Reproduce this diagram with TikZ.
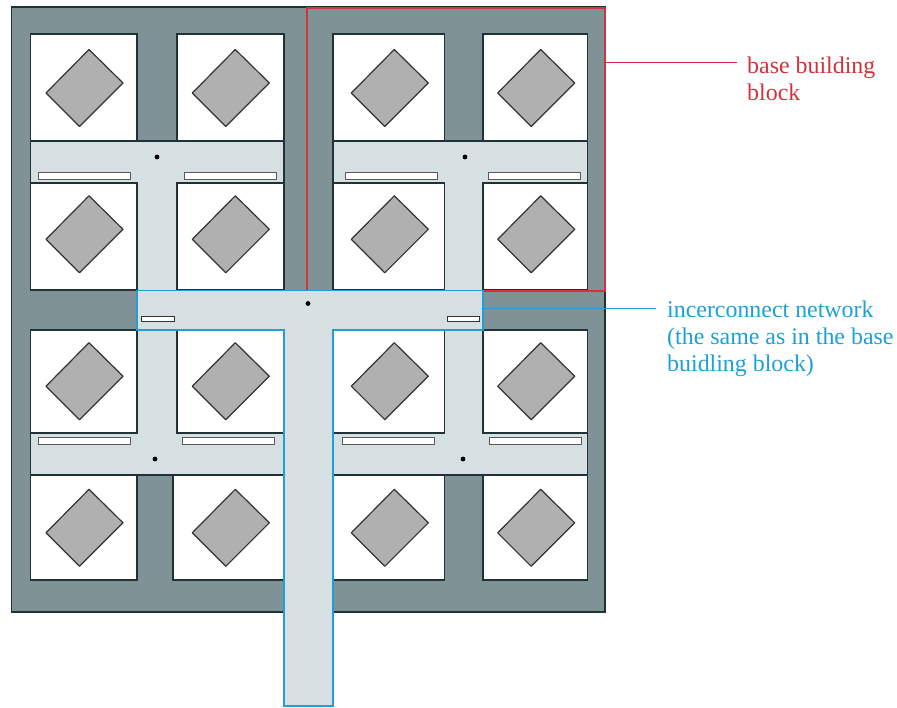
\documentclass[tikz,border=0pt]{standalone}
\usepackage{fontspec}
\setmainfont{Liberation Serif}
\definecolor{wallc}{HTML}{7F9396}
\definecolor{netc}{HTML}{D6DFE1}
\definecolor{chipc}{HTML}{B0B0B0}
\definecolor{linec}{HTML}{1F3336}
\definecolor{redc}{HTML}{D2323C}
\definecolor{bluec}{HTML}{1E9FD8}
\tikzset{
  wall/.style={fill=wallc,draw=linec,line width=1.3pt},
  cell/.style={fill=white,draw=linec,line width=1.3pt},
  net/.style={fill=netc,draw=linec,line width=1.3pt},
  chip/.style={fill=chipc,draw=black!80,line width=1.2pt,line join=round},
  slotbox/.style={fill=white,draw=black!65,line width=1pt},
  dotmark/.style={fill=black,draw=none},
  bluebox/.style={fill=netc,draw=bluec,line width=1.8pt},
  redbox/.style={draw=redc,line width=1.8pt},
  leadred/.style={draw=redc,line width=1.5pt},
  leadblue/.style={draw=bluec,line width=1.5pt},
  lab/.style={inner sep=0pt,align=left,anchor=north west,font=\fontsize{23.9pt}{27pt}\selectfont}
}
\begin{document}
\begin{tikzpicture}[x=1pt,y=-1pt]
\useasboundingbox (0,0) rectangle (897,707);
% outer wall
\draw[wall] (11.5,7) rectangle (605,612);
% T networks (under the cells)
\foreach \xa/\xb/\xc/\xd in {30.5/137/177/284,333/444.5/483/587.5}{
  \draw[net] (\xa,141) rectangle (\xd,183);
  \fill[netc] (\xb,170) rectangle (\xc,290);
  \draw[net] (\xa,433) rectangle (\xd,475);
  \fill[netc] (\xb,330) rectangle (\xc,440);
}
% cells
\foreach \xa/\xb in {30.5/137,177/284,333/444.5,483/587.5}{
  \foreach \ya/\yb in {34/141,183/290,330/433}{
    \draw[cell] (\xa,\ya) rectangle (\xb,\yb);
  }
}
\foreach \xa/\xb in {30.5/137,173/284,333/444.5,483/587.5}{
  \draw[cell] (\xa,475) rectangle (\xb,580);
}
% chips
\foreach \tx in {89,235.3,394.3,540.7}{
  \foreach \ty in {49.5,195.8,342.7,489.3}{
    \draw[chip] (\tx,\ty) -- ++(34,33.5) -- ++(-43.5,43.5) -- ++(-33.5,-33.5) -- cycle;
  }
}
% slots
\foreach \sx/\sy in {38/172.5,184/172.5,345/172.5,488.5/172.5,38/437,182/437,342.5/437,489.5/437}{
  \draw[slotbox] (\sx,\sy) rectangle ++(92,7);
}
% dots
\foreach \dx/\dy in {157/157,465/157,155/459,463/459}{
  \fill[dotmark] (\dx,\dy) circle (2.4);
}
% red block
\node[redbox,draw,fill=none,inner sep=0pt,minimum width=298pt,minimum height=283pt,anchor=north west] (block) at (306.3,7.3) {};
% blue interconnect
\draw[bluebox] (137,290.5) -- (483,290.5) -- (483,330) -- (333,330) -- (333,706) -- (284,706) -- (284,330) -- (137,330) -- cycle;
\coordinate (netport) at (483,308.5);
\draw[slotbox,draw=black!80] (141.5,316) rectangle (174,321.5);
\draw[slotbox,draw=black!80] (447,316) rectangle (479.5,321.5);
\fill[dotmark] (308,303.5) circle (2.4);
% labels
\node[lab,text=redc] (lbase) at (747,56.4) {base building\\block};
\node[lab,text=bluec] (lnet) at (667,300.4) {incerconnect network\\(the same as in the base\\buidling block)};
\coordinate (lbaseport) at (737,62.7);
\coordinate (lnetport) at (656,308.5);
\coordinate (blockport) at (605,62.7);
\draw[leadred] (blockport) -- (lbaseport);
\draw[leadblue] (netport) -- (lnetport);
\end{tikzpicture}
\end{document}
